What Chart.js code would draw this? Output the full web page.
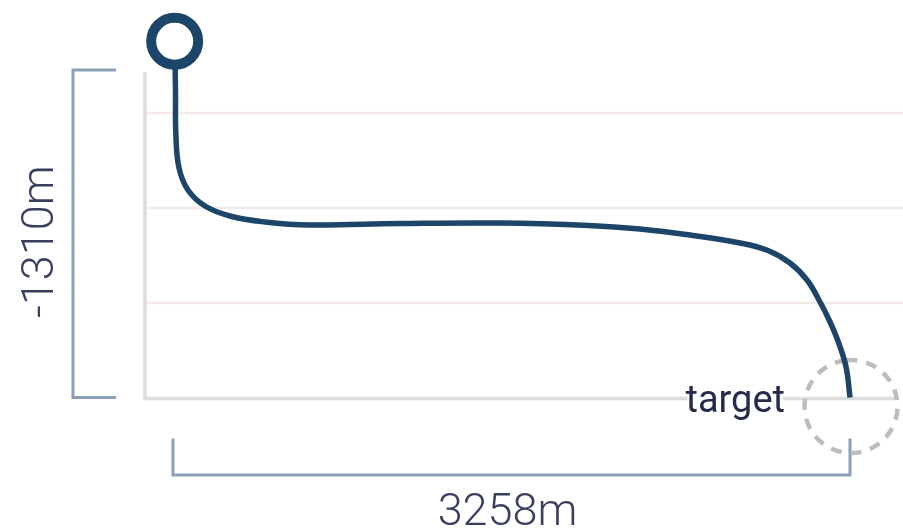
<!DOCTYPE html>
<html><head><meta charset="utf-8">
<script src="https://cdn.jsdelivr.net/npm/chart.js@4.4.1/dist/chart.umd.min.js"></script>
<style>html,body{margin:0;padding:0;background:#fff;}#wrap{width:903px;height:529px;position:relative;}</style>
</head><body><div id="wrap"><canvas id="c"></canvas></div>
<script>
// Well path: horizontal displacement (m) vs vertical depth (m)
const horizontalDisplacement = [8, 12, 14, 29, 72, 154, 274, 443, 659, 1092, 1574, 2000, 2247, 2488, 2729, 2863, 2969, 3051, 3114, 3162, 3200, 3239, 3258];
const verticalDepth = [115, -80, -260, -392, -480, -544, -584, -608, -620, -614, -612, -622, -636, -660, -692, -722, -772, -840, -928, -1008, -1084, -1188, -1310];
const gridDepths = [-172, -552, -932];
const totalReach = 3258;
const totalDepth = -1310;
const depthLabel = '-1310m';
const reachLabel = '3258m';
const targetLabel = 'target';

const points = horizontalDisplacement.map((x, i) => ({x: x, y: verticalDepth[i]}));

const decor = {
  id: 'decor',
  beforeDatasetsDraw(chart) {
    const ctx = chart.ctx, xs = chart.scales.x, ys = chart.scales.y;
    const x0 = xs.getPixelForValue(0), xE = xs.getPixelForValue(totalReach);
    const y0 = ys.getPixelForValue(0), yB = ys.getPixelForValue(totalDepth);
    ctx.save();
    ctx.strokeStyle = '#f5e9eb'; ctx.lineWidth = 2.5;
    gridDepths.forEach(v => {
      const y = ys.getPixelForValue(v);
      ctx.beginPath(); ctx.moveTo(x0 - 26, y); ctx.lineTo(chart.width, y); ctx.stroke();
    });
    ctx.strokeStyle = '#dddddd'; ctx.lineWidth = 3.5;
    ctx.beginPath(); ctx.moveTo(x0 - 28, y0 + 2); ctx.lineTo(x0 - 28, yB + 1); ctx.lineTo(xE + 48, yB + 1); ctx.stroke();
    ctx.strokeStyle = '#8ba0b6'; ctx.lineWidth = 3;
    ctx.beginPath();
    ctx.moveTo(x0 - 57, y0); ctx.lineTo(x0 - 100, y0); ctx.lineTo(x0 - 100, yB); ctx.lineTo(x0 - 57, yB);
    ctx.stroke();
    ctx.beginPath();
    ctx.moveTo(x0, yB + 41); ctx.lineTo(x0, yB + 77.5); ctx.lineTo(xE, yB + 77.5); ctx.lineTo(xE, yB + 41);
    ctx.stroke();
    ctx.strokeStyle = '#bdbdbd'; ctx.lineWidth = 4.5; ctx.setLineDash([11, 9]);
    ctx.beginPath(); ctx.arc(xE + 1, yB + 9, 46.5, -Math.PI / 2 - 0.1, Math.PI * 1.5 - 0.1); ctx.stroke();
    ctx.setLineDash([]);
    ctx.fillStyle = '#3a3f5e';
    ctx.font = '300 45px Roboto';
    ctx.textAlign = 'center'; ctx.textBaseline = 'alphabetic';
    ctx.fillText(reachLabel, (x0 + xE) / 2 - 4, yB + 127.5);
    ctx.save();
    ctx.translate(53, (y0 + yB) / 2 + 8);
    ctx.rotate(-Math.PI / 2);
    ctx.fillText(depthLabel, 0, 0);
    ctx.restore();
    ctx.font = '400 38px Roboto';
    ctx.textAlign = 'right';
    const w = ctx.measureText(targetLabel).width;
    ctx.fillStyle = '#ffffff';
    ctx.fillRect(xE - 65 - w + 2, yB - 3, w - 4, 8);
    ctx.fillStyle = '#272b4b';
    ctx.fillText(targetLabel, xE - 65, yB + 14.5);
    ctx.restore();
  }
};

new Chart(document.getElementById('c'), {
  type: 'line',
  data: {
    datasets: [{
      data: points,
      borderColor: '#1d4469',
      borderWidth: 5.5,
      tension: 0.4,
      clip: false,
      pointRadius: points.map((p, i) => i === 0 ? 23.5 : 0),
      pointHoverRadius: points.map((p, i) => i === 0 ? 23.5 : 0),
      pointBorderWidth: 10,
      pointBorderColor: '#1d4469',
      pointBackgroundColor: '#ffffff',
      fill: false
    }]
  },
  options: {
    responsive: true,
    maintainAspectRatio: false,
    animation: false,
    events: [],
    layout: {padding: 0, autoPadding: false},
    plugins: {legend: {display: false}, tooltip: {enabled: false}},
    scales: {
      x: {type: 'linear', display: false, min: -832.5, max: 3513},
      y: {type: 'linear', display: false, min: -1836, max: 280}
    }
  },
  plugins: [decor]
});
</script>
</body></html>
